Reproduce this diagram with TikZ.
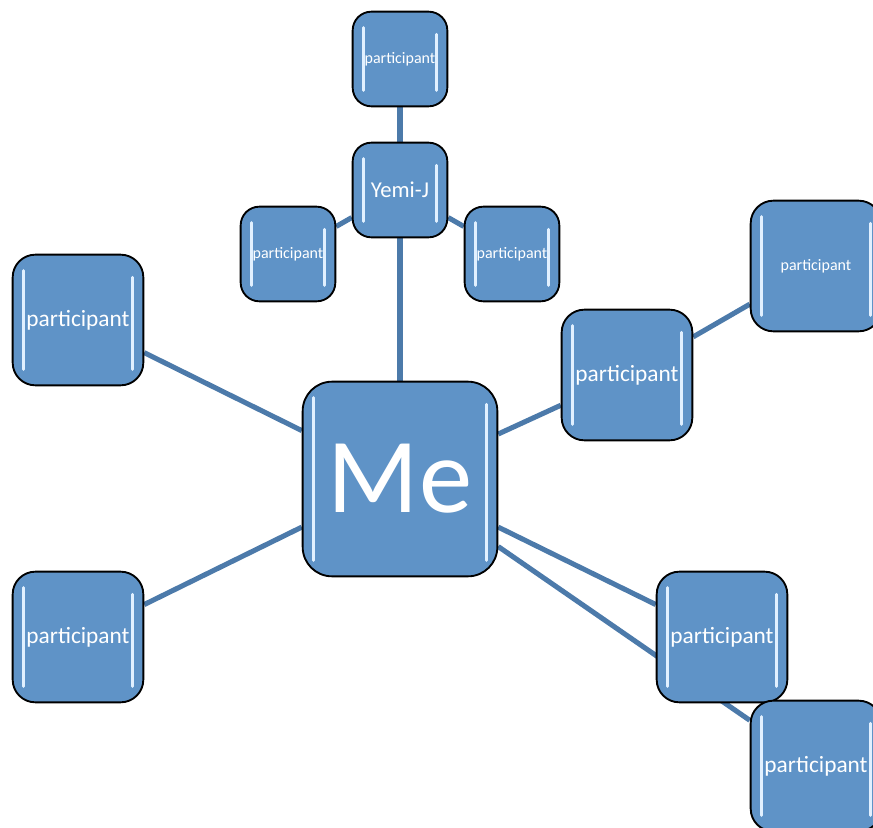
\documentclass[tikz,border=0pt]{standalone}
\usepackage{fontspec}
\setmainfont{Carlito}
\usepackage{xcolor}
\usetikzlibrary{backgrounds}

\definecolor{boxblue}{RGB}{95,147,199}
\definecolor{linkblue}{RGB}{76,122,170}
\definecolor{glint}{RGB}{225,240,255}

\tikzset{
  gloss/.style={draw=black,line width=1.4pt,fill=boxblue,text=white,inner sep=0pt,
    path picture={
      \draw[glint,line width=2.2pt,line cap=round]
        ([xshift=8pt,yshift=-12pt]path picture bounding box.north west)
          -- ([xshift=8pt,yshift=12pt]path picture bounding box.south west)
        ([xshift=-8pt,yshift=-17pt]path picture bounding box.north east)
          -- ([xshift=-8pt,yshift=12pt]path picture bounding box.south east);
    }},
  mebox/.style={gloss,minimum size=146pt,rounded corners=22pt,font=\fontsize{80}{80}\selectfont},
  bigbox/.style={gloss,minimum size=98pt,rounded corners=17pt,font=\fontsize{17.5}{18}\selectfont},
  smallbox/.style={gloss,minimum size=71pt,rounded corners=14pt,font=\fontsize{12}{12}\selectfont},
  link/.style={draw=linkblue,line width=3.8pt}
}

\begin{document}
\begin{tikzpicture}[x=0.75pt,y=-0.75pt]
  \useasboundingbox (0,0) rectangle (873,827);

  \node[mebox] (me) at (400,479) {Me};
  \node[smallbox,font=\fontsize{17}{18}\selectfont] (yemi) at (400,190) {Yemi-J};
  \node[smallbox] (ptop) at (400,59) {participant};
  \node[smallbox] (pyl) at (288,254) {participant};
  \node[smallbox] (pyr) at (512,254) {participant};

  \node[bigbox] (pl1) at (78,320) {participant};
  \node[bigbox] (pl2) at (78,637) {participant};
  \node[bigbox] (pr1) at (627,375) {participant};
  \node[bigbox,font=\fontsize{12}{12}\selectfont] (pr2) at (816,266) {participant};
  \node[bigbox] (pr3) at (722,637) {participant};
  \node[bigbox] (pr4) at (816,766) {participant};

  \begin{scope}[on background layer]
    \draw[link] (me) -- (yemi);
    \draw[link] (yemi) -- (ptop);
    \draw[link] (yemi) -- (pyl);
    \draw[link] (yemi) -- (pyr);
    \draw[link] (me) -- (pl1);
    \draw[link] (me) -- (pl2);
    \draw[link] (me) -- (pr1);
    \draw[link] (pr1) -- (pr2);
    \draw[link] (me) -- (pr3);
    \draw[link] (me) -- (pr4);
  \end{scope}
\end{tikzpicture}
\end{document}
